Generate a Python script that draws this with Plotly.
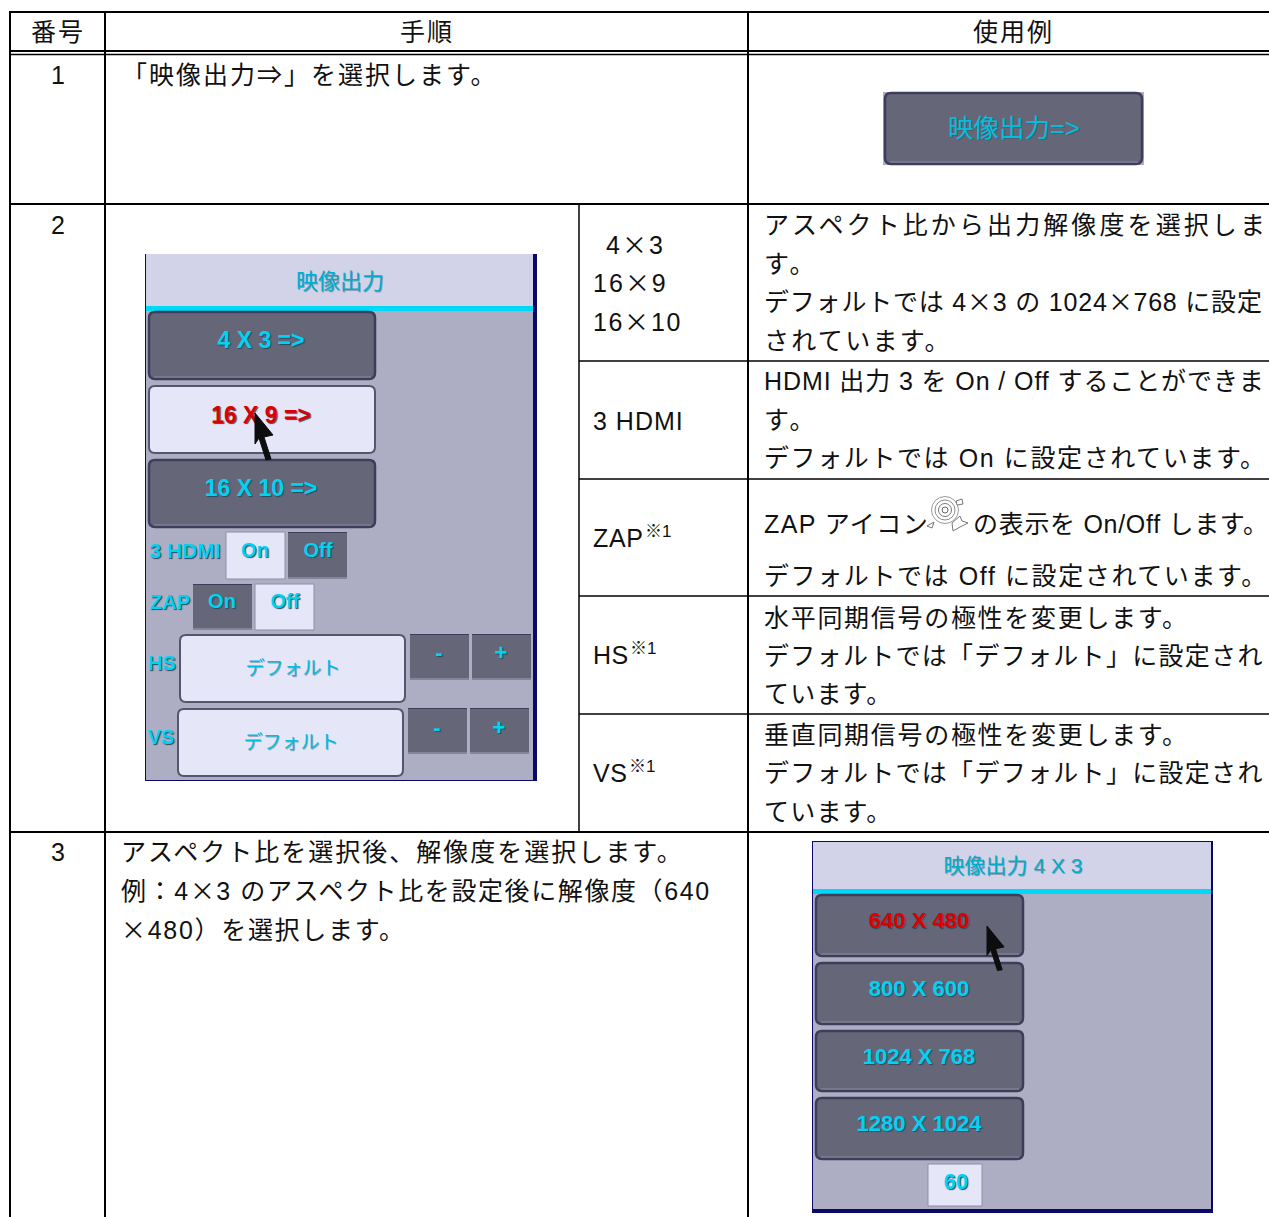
import plotly.graph_objects as go

# ---------- content ----------
HEAD_TEXT = ["番号", "手順", "使用例"]
ROW_NUMBERS = ["1", "2", "3"]
STEP_ONE = "「映像出力⇒」を選択します。"
MODE_LABELS = ["4×3", "16×9", "16×10", "3 HDMI", "ZAP", "HS", "VS"]
NOTE_MARK = "※1"
DESC_LINES = [
    "アスペクト比から出力解像度を選択しま", "す。", "デフォルトでは 4×3 の 1024×768 に設定", "されています。",
    "HDMI 出力 3 を On / Off することができま", "す。", "デフォルトでは On に設定されています。",
    "ZAP アイコン", "の表示を On/Off します。", "デフォルトでは Off に設定されています。",
    "水平同期信号の極性を変更します。", "デフォルトでは「デフォルト」に設定され", "ています。",
    "垂直同期信号の極性を変更します。", "デフォルトでは「デフォルト」に設定され", "ています。",
]
STEP_THREE = ["アスペクト比を選択後、解像度を選択します。", "例：4×3 のアスペクト比を設定後に解像度（640", "×480）を選択します。"]
MENU_BUTTON = "映像出力=>"
PANEL_TITLE = ["映像出力", "映像出力 4 X 3"]
PANEL_A_BIG = ["4 X 3 =>", "16 X 9 =>", "16 X 10 =>"]
PANEL_A_SMALL = ["On", "Off", "On", "Off", "-", "+", "-", "+"]
PANEL_A_SIDE = ["3 HDMI", "ZAP", "HS", "VS"]
PANEL_A_WIDE = ["デフォルト", "デフォルト"]
PANEL_B_BIG = ["640 X 480", "800 X 600", "1024 X 768", "1280 X 1024", "60"]

# ---------- layout ----------
W, H = 1269, 1217
SANS = "MixTimes, Liberation Sans, Noto Sans CJK JP, sans-serif"
INK = "#111111"
CYAN, RED = "#00D2F2", "#DD0000"
DARK, LIGHT, PANEL, HEADER = "#666679", "#E6E6F9", "#ADADC3", "#D2D2E8"
NAVY, EDGE = "#0A0A66", "#3E3E5C"

shapes, annos = [], []


def line(x0, y0, x1, y1, w=2):
    shapes.append(dict(type="line", x0=x0, y0=y0, x1=x1, y1=y1, line=dict(color="#000000", width=w), layer="below"))


def rect(x0, y0, x1, y1, fill, edge=None, w=0, layer="below"):
    shapes.append(dict(type="rect", x0=x0, y0=y0, x1=x1, y1=y1, fillcolor=fill,
                       line=dict(color=edge or fill, width=w), layer=layer))


def rrect(x0, y0, x1, y1, fill, edge, w=2, r=6):
    p = (f"M{x0+r},{y0} L{x1-r},{y0} Q{x1},{y0} {x1},{y0+r} L{x1},{y1-r} Q{x1},{y1} {x1-r},{y1} "
         f"L{x0+r},{y1} Q{x0},{y1} {x0},{y1-r} L{x0},{y0+r} Q{x0},{y0} {x0+r},{y0} Z")
    shapes.append(dict(type="path", path=p, fillcolor=fill, line=dict(color=edge, width=w), layer="below"))


def button(x0, y0, x1, y1, dark=True):
    if dark:
        rrect(x0 + 1, y0 + 1, x1 - 1, y1 - 1, DARK, EDGE, 2.5)
        shapes.append(dict(type="line", x0=x0 + 6, y0=y1 - 3, x1=x1 - 5, y1=y1 - 3,
                           line=dict(color="#8C8CA0", width=1), layer="below"))
    else:
        rrect(x0 + 1, y0 + 1, x1 - 1, y1 - 1, LIGHT, "#55556C", 2)


def small(x0, y0, x1, y1, dark=True):
    if dark:
        rect(x0, y0, x1, y1, DARK)
        rect(x0, y0, x1, y0 + 1, EDGE)
        rect(x0, y1 - 2, x1, y1, "#85859A")
    else:
        rect(x0, y0, x1, y1, LIGHT, "#8E8EA4", 1)


def cursor(tx, ty, scale=1.0):
    pts = [(0, 0), (18, 22), (9, 24), (16, 46), (11, 47), (4, 25), (0, 31)]
    p = "M" + " L".join(f"{tx+a*scale:.1f},{ty+b*scale:.1f}" for a, b in pts) + " Z"
    shapes.append(dict(type="path", path=p, fillcolor="#0D0D0D", line=dict(color="#0D0D0D", width=1), layer="above"))


def text(s, x, y, size=25, anchor="left", spacing=0.0):
    body = s
    if spacing:
        body = f'<span style="letter-spacing:{spacing}px">{body}</span>'
    annos.append(dict(text=body, x=x, y=y, xref="x", yref="y", xanchor=anchor, yanchor="middle", showarrow=False,
                      borderpad=0, borderwidth=0, align=anchor, font=dict(family=SANS, size=size, color=INK)))


# table rules
for yy in (12, 204, 832):
    line(9, yy, W, yy)
line(9, 51, W, 51, 2)
line(9, 54.5, W, 54.5, 1.5)
for yy in (361, 479, 596, 714):
    line(579, yy, W, yy, 1.5)
for xx in (10, 105, 748):
    line(xx, 11, xx, H, 2)
line(579, 204, 579, 832, 1.5)

# table text
for s, cx in zip(HEAD_TEXT, (58, 427, 1013)):
    text(s, cx, 32, anchor="center", spacing=2)
for s, cy in zip(ROW_NUMBERS, (75, 225, 852)):
    text(s, 58, cy, anchor="center")
text(STEP_ONE, 122, 75, spacing=2)
MODE_X = (606, 593, 593, 593, 593, 593, 593)
MODE_Y = (245, 283, 322, 421, 538, 655, 773)
MODE_SP = (2, 2, 1.7, 1, 0.7, 0.5, 0.5)
for s, lx, cy, sp in zip(MODE_LABELS, MODE_X, MODE_Y, MODE_SP):
    text(s, lx, cy, spacing=sp)
for lx, cy in zip((645, 630, 629), (531, 648, 766)):
    text(NOTE_MARK, lx, cy, size=17)
DESC_X = [764] * 7 + [764, 973] + [764] * 7
DESC_Y = [225, 264, 302, 341, 381, 420, 458, 524, 524, 576, 618, 656, 694, 735, 773, 812]
DESC_SP = [3.1, 3.1, 0.8, 2.3, 0.9, 3.1, 1.6, 1.4, 0.7, 1.6, 1.7, 1.3, 1.2, 1.7, 1.3, 1.2]
for s, lx, cy, sp in zip(DESC_LINES, DESC_X, DESC_Y, DESC_SP):
    text(s, lx, cy, spacing=sp)
for s, cy, sp in zip(STEP_THREE, (852, 891, 930), (2, 1.6, 1.7)):
    text(s, 121, cy, spacing=sp)

# ZAP icon
for r, c in ((13.5, "#9A9A9A"), (10, "#8C8C8C"), (6.5, "#777777"), (3, "#666666")):
    shapes.append(dict(type="circle", x0=945 - r, y0=510 - r, x1=945 + r, y1=510 + r,
                       fillcolor="rgba(0,0,0,0)", line=dict(color=c, width=1), layer="below"))
shapes.append(dict(type="path", path="M952,523 L960,516 L962,521 L968,523 L960,527 L953,531 Z",
                   fillcolor="#FFFFFF", line=dict(color="#777777", width=1), layer="below"))
shapes.append(dict(type="path", path="M927,526 L934,522 L932,528 Z", fillcolor="#FFFFFF",
                   line=dict(color="#777777", width=1), layer="below"))
shapes.append(dict(type="path", path="M956,501 L962,499 L963,504 L957,505 Z", fillcolor="#FFFFFF",
                   line=dict(color="#777777", width=1), layer="below"))

# menu button
rect(883, 92, 1144, 165, PANEL)
button(884, 92, 1143, 165)

# panel A
rect(145, 254, 537, 781, NAVY)
rect(146, 254, 533, 780, PANEL)
rect(146, 254, 533, 306, HEADER)
rect(146, 306, 533, 311, "#00D8F8")
for y0 in (311, 459):
    button(148, y0, 376, y0 + 69)
button(148, 385, 376, 454, dark=False)
small(226, 532, 285, 579, False)
small(288, 532, 347, 579, True)
small(193, 584, 252, 630, True)
small(255, 584, 314, 630, False)
button(179, 634, 406, 703, dark=False)
button(177, 708, 404, 777, dark=False)
for x0, y0 in ((410, 634), (472, 634), (408, 708), (470, 708)):
    small(x0, y0, x0 + 59, y0 + 46, True)
cursor(255, 413)

# panel B
rect(812, 841, 1213, 1213, NAVY)
rect(813, 842, 1211, 1209, PANEL)
rect(813, 842, 1211, 889, HEADER)
rect(813, 889, 1211, 894, "#00D8F8")
for y0, y1 in ((894, 957), (962, 1025), (1030, 1092), (1097, 1160)):
    button(815, y0, 1024, y1)
small(928, 1164, 982, 1206, False)
cursor(987, 926, 0.95)

# screenshot text is drawn as text traces so that the cursor shapes sit above it
traces = []


def label(s, cx, cy, size=24, color=CYAN, bold=True):
    shadow = "1px 1px 1px #2A4A60" if bold else "1px 1px 0.5px rgba(40,70,90,0.4)"
    traces.append(go.Scatter(x=[cx], y=[cy], mode="text", text=[s], textposition="middle center", hoverinfo="skip",
                             textfont=dict(family=SANS, size=size, color=color, weight=700 if bold else 400,
                                           shadow=shadow)))


label(MENU_BUTTON, 1014, 131, 25.5, "#00BEDC", False)
label(PANEL_TITLE[0], 340, 283, 22, "#00AECB", False)
label(PANEL_TITLE[1], 1013, 868, 21, "#00AECB", False)
for s, cy, col in zip(PANEL_A_BIG, (342, 417, 490), (CYAN, RED, CYAN)):
    label(s, 261, cy, 23, col)
for s, cx, cy, sz in zip(PANEL_A_SMALL, (255, 318, 222, 285, 439, 501, 437, 499), (552, 552, 603, 603, 654, 654, 729, 729),
                         (20, 20, 20, 20, 22, 22, 22, 22)):
    label(s, cx, cy, sz)
for s, cx, cy, sz in zip(PANEL_A_SIDE, (185, 170, 162, 161), (553, 604, 665, 739), (21, 20, 20, 20)):
    label(s, cx, cy, sz)
for s, cx, cy in zip(PANEL_A_WIDE, (293, 291), (670, 744)):
    label(s, cx, cy, 19, "#00BEDC", False)
for s, cx, cy, col in zip(PANEL_B_BIG, (919, 919, 919, 919, 956), (922, 990, 1058, 1125, 1183), (RED, CYAN, CYAN, CYAN, CYAN)):
    label(s, cx, cy, 22, col)

fig = go.Figure(traces)
fig.update_layout(
    width=W, height=H, margin=dict(l=0, r=0, t=0, b=0), showlegend=False,
    paper_bgcolor="#FFFFFF", plot_bgcolor="#FFFFFF", shapes=shapes, annotations=annos,
    xaxis=dict(range=[0, W], visible=False, fixedrange=True),
    yaxis=dict(range=[H, 0], visible=False, fixedrange=True),
)
FONT_RULE = ('@font-face{font-family:MixTimes;src:local("Noto Sans CJK JP"),local("Noto Sans CJK JP Regular");'
             'unicode-range:U+D7;}')
fig.write_html("out.html", config=dict(displayModeBar=False),
               post_script="document.body.style.margin='0';document.body.style.overflow='hidden';"
                           "var s=document.createElement('style');s.textContent='" + FONT_RULE + "';"
                           "document.head.appendChild(s);")
